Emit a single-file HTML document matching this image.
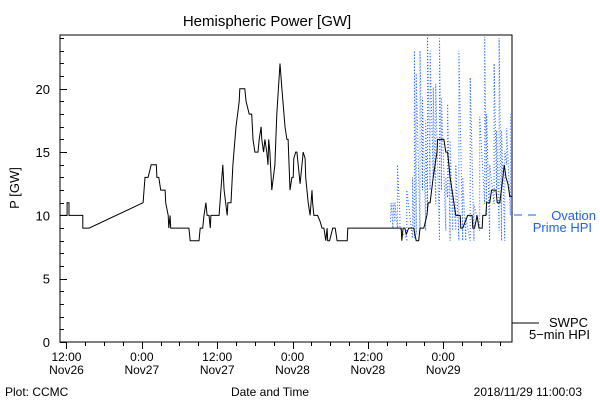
<!DOCTYPE html>
<html><head><meta charset="utf-8"><style>
html,body{margin:0;padding:0;background:#fff;}
svg{display:block;font-family:"Liberation Sans",sans-serif;}
</style></head><body>
<svg id="chart" width="600" height="400" viewBox="0 0 600 400">
<text x="267" y="26" font-size="15" text-anchor="middle">Hemispheric Power [GW]</text>
<text transform="translate(19,188) rotate(-90)" font-size="13" text-anchor="middle">P [GW]</text>
<rect x="60" y="35" width="452" height="307" fill="none" stroke="#000" stroke-width="1"/>
<g id="yaxis"></g>
<g id="xaxis"></g>
<g id="series"></g>
<g>
<line x1="514" y1="215" x2="540" y2="215" stroke="#1f5fff" stroke-dasharray="8,6"/>
<text x="596" y="220" font-size="13" fill="#1f5fff" text-anchor="end">Ovation</text>
<text x="592" y="232" font-size="13" fill="#1f5fff" text-anchor="end">Prime HPI</text>
</g>
<g>
<line x1="512" y1="323" x2="539" y2="323" stroke="#000"/>
<text x="588" y="327" font-size="13" text-anchor="end">SWPC</text>
<text x="590" y="339" font-size="13" text-anchor="end">5−min HPI</text>
</g>
<text x="5" y="396" font-size="12">Plot: CCMC</text>
<text x="270" y="396" font-size="12" text-anchor="middle">Date and Time</text>
<text x="582" y="396" font-size="12" text-anchor="end">2018/11/29 11:00:03</text>
</svg>
<script>
// hours since Nov26 12:00
const yTicks=[0,5,10,15,20];
const xTickHours=[0,12,24,36,48,60];
const xTickTimes=["12:00","0:00","12:00","0:00","12:00","0:00"];
const xTickDates=["Nov26","Nov27","Nov27","Nov28","Nov28","Nov29"];
const swpcTimes=[-1.0,0.1,0.1,0.4,0.4,2.6,2.6,3.6,12.2,12.5,13.0,13.5,14.3,14.4,14.7,15.0,15.7,15.8,16.2,16.3,16.5,16.6,19.5,19.7,21.1,21.3,21.7,21.9,22.2,22.4,22.7,22.9,23.0,24.3,24.6,24.9,25.1,25.6,25.7,26.2,26.5,27.0,27.5,27.6,28.4,28.6,29.1,29.5,29.7,30.0,30.5,30.7,31.0,31.1,31.4,31.6,31.9,32.1,32.2,32.4,32.7,33.2,33.5,34.0,34.3,34.8,35.1,35.3,35.6,35.9,36.1,36.2,36.5,36.7,36.9,37.2,37.7,38.0,38.1,38.5,38.8,39.1,39.2,39.4,40.0,40.4,40.7,41.0,41.3,41.5,41.6,41.9,42.4,42.8,43.1,44.7,44.8,53.3,53.4,53.6,53.9,54.1,54.5,55.3,55.7,56.1,56.3,56.9,57.4,57.6,57.9,58.4,58.7,59.0,59.1,59.8,60.1,60.4,60.7,61.1,61.4,61.7,62.0,62.7,62.8,63.1,63.9,64.6,64.7,65.0,65.4,65.7,66.2,66.3,66.8,66.9,67.4,67.7,68.4,68.6,69.0,69.5,69.7,70.0,70.3,70.6,70.9];
const swpcValues=[10,10,11,11,10,10,9,9,11,13,13,14,14,13,13,12,12,11,10,9,10,9,9,8,8,9,9,10,11,10,10,9,10,10,12,14,12,10,11,11,14,17,19,20,20,19,18,18,16,15,15,16,17,16,15,16,15,14,16,15,12,14,18,22,20,17,16,16,12,13,13,14.5,15,15,14,12.5,15,14.5,13,11,10,12,11,10,10,9.5,9,9,8,9,8,8,9,9,8,8,9,9,8,9,9,8.5,9,9,8,8,9,9,10,11,11,13,14,15,16,16,16,15,15,13,12,11,10,10,9,9,10,10,9,9,10,9,9,10,10,11,11,12,12,11,11,13,14,13,12.5,11.5,11.5];
const ovTimes=[51.6,51.7,52.0,52.0,52.3,52.3,52.7,52.7,53.1,53.1,54.2,54.2,55.1,55.1,55.4,55.4,55.7,55.7,56.3,56.3,56.7,56.7,57.2,57.2,57.5,57.5,57.9,57.9,58.4,58.4,58.8,58.8,59.4,59.4,59.7,59.7,60.4,60.4,60.7,60.7,61.1,61.1,61.5,61.5,62.0,62.0,62.5,62.5,63.1,63.1,63.6,63.6,64.3,64.3,64.9,64.9,65.8,65.8,66.6,66.6,66.9,66.9,67.4,67.4,68.1,68.1,68.5,68.5,68.9,68.9,69.3,69.3,69.8,69.8,70.1,70.1,70.7,70.7];
const ovValues=[9.5,11,9,11,9.5,11,9,14,10,9,8.1,12,8.2,13,8.2,23,8.5,21.2,8.8,23,12,19.3,8.8,17.5,10.3,24.1,12,23,13,20.1,10.9,20.4,8,24,12,19.3,8.8,13,11.4,18.8,8,15.9,8.8,12,8.8,14,8,23,8,13,8,9.8,8,20.9,8,10.9,8.8,17.8,10.9,24.1,10,18,8,14,10.9,22,12,16.7,8.8,24,8,16.7,8,15.1,14,16.9,10,18];
const NS="http://www.w3.org/2000/svg";
const X0=60,X1=512,Y0=342,Y1=35,HMIN=-1.03,HMAX=70.95,VMIN=0,VMAX=24.25;
function xs(h){return X0+(h-HMIN)/(HMAX-HMIN)*(X1-X0);}
function ys(v){return Y0-(v-VMIN)/(VMAX-VMIN)*(Y0-Y1);}
function mk(tag,attrs,parent){const e=document.createElementNS(NS,tag);for(const k in attrs)e.setAttribute(k,attrs[k]);parent.appendChild(e);return e;}
const ya=document.getElementById('yaxis'),xa=document.getElementById('xaxis'),sg=document.getElementById('series');
for(let v=0;v<=24;v++){const y=Math.round(ys(v))+0.5;const maj=v%5===0;
 const t=mk('line',{x1:X0,x2:X0+(maj?7:4),y1:y,y2:y,stroke:'#000'},ya);
 
 }
yTicks.forEach(v=>{const t=mk('text',{x:50,y:ys(v)+5,'font-size':13,'text-anchor':'end'},ya);t.textContent=v;
 
 });
for(let h=0;h<=HMAX;h+=3){const x=Math.round(xs(h))+0.5;const maj=h%12===0;
 const t=mk('line',{x1:x,x2:x,y1:Y0,y2:Y0+(maj?7:4),stroke:'#000'},xa);
 
 }
xTickHours.forEach((h,i)=>{const a=mk('text',{x:xs(h),y:361,'font-size':12,'text-anchor':'middle'},xa);a.textContent=xTickTimes[i];
 
 
 const b=mk('text',{x:xs(h),y:374,'font-size':12,'text-anchor':'middle'},xa);b.textContent=xTickDates[i];
 
 });
const ov=mk('polyline',{points:ovTimes.map((h,i)=>xs(h).toFixed(1)+','+ys(ovValues[i]).toFixed(1)).join(' '),fill:'none',stroke:'#1f5fff','stroke-width':1,'stroke-dasharray':'1,2'},sg);


const sw=mk('polyline',{points:swpcTimes.map((h,i)=>xs(h).toFixed(1)+','+ys(swpcValues[i]).toFixed(1)).join(' '),fill:'none',stroke:'#000','stroke-width':1},sg);


</script>
</body></html>
